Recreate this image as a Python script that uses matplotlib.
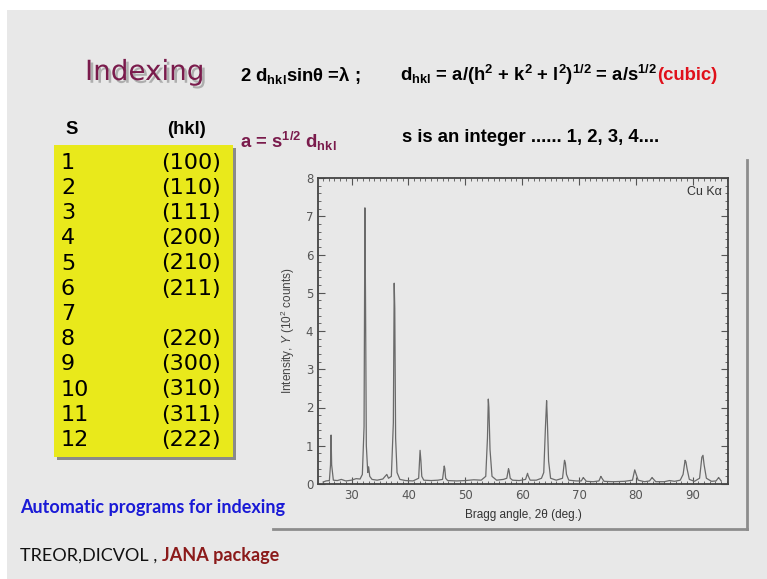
import numpy as np
import matplotlib.pyplot as plt
import matplotlib.patheffects as pe
from matplotlib.patches import Rectangle
from matplotlib.ticker import MultipleLocator

# ~~~~~~~~~~~~~~~~~~~~ data ~~~~~~~~~~~~~~~~~~~~
s_values = ['1', '2', '3', '4', '5', '6', '7', '8', '9', '10', '11', '12']
hkl_values = ['(100)', '(110)', '(111)', '(200)', '(210)', '(211)', '',
              '(220)', '(300)', '(310)', '(311)', '(222)']

# XRD trace (2theta in deg, intensity in 10^2 counts)
two_theta = [25.0, 25.5, 26.1, 26.3, 26.4, 26.5, 26.8, 27.5, 28.2, 29.0, 30.0, 30.8, 31.5,
             31.9, 32.2, 32.35, 32.45, 32.6, 32.85, 33.0, 33.2, 33.6, 34.5, 35.5,
             35.9, 36.2, 36.5, 37.0, 37.35, 37.5, 37.6, 37.75, 38.0, 38.5, 39.5, 40.8,
             41.8, 42.05, 42.2, 42.35, 42.7, 44.0, 45.2,
             46.0, 46.3, 46.4, 46.55, 46.9, 48.5, 50.0, 51.5, 52.8,
             53.6, 53.9, 54.05, 54.15, 54.35, 54.7, 55.5, 56.7,
             57.3, 57.6, 57.7, 57.9, 58.3, 59.5,
             60.6, 60.95, 61.05, 61.4, 62.5, 63.4,
             63.8, 64.1, 64.3, 64.4, 64.65, 65.0, 66.0,
             67.1, 67.45, 67.6, 67.8, 68.2, 69.5,
             70.4, 70.75, 70.85, 71.3, 72.5,
             73.5, 73.85, 73.95, 74.4, 76.0, 78.0,
             79.4, 79.8, 79.95, 80.4, 81.5,
             82.4, 82.85, 82.95, 83.5, 85.0, 85.9, 86.8, 87.8,
             88.3, 88.65, 88.8, 89.0, 89.4, 90.3,
             91.2, 91.6, 91.8, 92.0, 92.4, 93.3,
             94.1, 94.55, 94.65, 95.0]
intensity = [0.05, 0.08, 0.09, 0.5, 1.28, 0.5, 0.1, 0.09, 0.12, 0.08, 0.10, 0.14, 0.13,
             0.25, 1.5, 7.22, 5.0, 1.0, 0.3, 0.45, 0.2, 0.12, 0.1, 0.13,
             0.2, 0.25, 0.15, 0.2, 1.6, 5.25, 4.6, 1.2, 0.3, 0.12, 0.09, 0.08,
             0.15, 0.88, 0.6, 0.2, 0.1, 0.09, 0.1,
             0.12, 0.47, 0.4, 0.15, 0.09, 0.08, 0.09, 0.11, 0.1,
             0.2, 1.2, 2.22, 2.0, 0.9, 0.2, 0.1, 0.12,
             0.15, 0.40, 0.35, 0.15, 0.1, 0.09,
             0.12, 0.28, 0.22, 0.1, 0.1, 0.15,
             0.3, 1.5, 2.18, 1.8, 0.6, 0.15, 0.1,
             0.15, 0.62, 0.55, 0.25, 0.1, 0.08,
             0.08, 0.17, 0.15, 0.07, 0.06,
             0.08, 0.2, 0.17, 0.07, 0.06, 0.07,
             0.1, 0.37, 0.3, 0.1, 0.06,
             0.08, 0.17, 0.15, 0.06, 0.06, 0.09, 0.07, 0.1,
             0.25, 0.62, 0.58, 0.4, 0.12, 0.07,
             0.15, 0.7, 0.75, 0.5, 0.15, 0.07,
             0.08, 0.17, 0.15, 0.08]

W, H = 767, 579


def fx(x):
    return x / W


def fy(y):
    return 1 - y / H


plt.rcParams['mathtext.fontset'] = 'custom'
plt.rcParams['mathtext.rm'] = 'Liberation Sans'
plt.rcParams['mathtext.it'] = 'Liberation Sans:italic'
plt.rcParams['mathtext.bf'] = 'Liberation Sans:bold'

fig = plt.figure(figsize=(W / 100, H / 100), dpi=100, facecolor='white')
renderer = fig.canvas.get_renderer()


def after(prev, s, gap=0, **kw):
    # put a text right after the previous one on the same line
    bb = prev.get_window_extent(renderer)
    x0 = (bb.x1 + gap) / fig.bbox.width
    return fig.text(x0, prev.get_position()[1], s, **kw)


# slide background
fig.patches.append(Rectangle((fx(7), 0), 1 - fx(7), fy(10), transform=fig.transFigure,
                             facecolor='#e8e8e8', edgecolor='none', zorder=-5))

# title
fig.text(fx(85), fy(72), 'Indexing', fontsize=20, color='#7a1b4c', family='DejaVu Sans',
         va='center', ha='left',
         path_effects=[pe.withSimplePatchShadow(offset=(2, -2), shadow_rgbFace='#888888', alpha=0.6)])

eq = dict(fontsize=13.3, fontweight='bold', family='Liberation Sans', va='center')
fig.text(fx(240), fy(75), r'2 d$_{\bf hkl}$sinθ =λ ;', **eq)
t = fig.text(fx(400), fy(75),
             r'd$_{\bf hkl}$ = a/(h$^{\bf 2}$ + k$^{\bf 2}$ + l$^{\bf 2}$)$^{\bf 1/2}$ = a/s$^{\bf 1/2}$', **eq)
after(t, '(cubic)', color='#e0101a', **eq)
fig.text(fx(240), fy(141), r'a = s$^{\bf 1/2}$ d$_{\bf hkl}$', color='#7a1b4c', **eq)
fig.text(fx(402), fy(138), 's is an integer ...... 1, 2, 3, 4....', **eq)

# table
fig.text(fx(65), fy(129), 'S', **eq)
fig.text(fx(167), fy(129), '(hkl)', **eq)
fig.patches.append(Rectangle((fx(57), fy(460)), fx(179), fy(148) - fy(460),
                             transform=fig.transFigure, facecolor='#8a8a8a',
                             edgecolor='none', zorder=1))
fig.patches.append(Rectangle((fx(54), fy(457)), fx(179), fy(145) - fy(457),
                             transform=fig.transFigure, facecolor='#e9e91b',
                             edgecolor='none', zorder=2))
for i, (s, hkl) in enumerate(zip(s_values, hkl_values)):
    y = 162.7 + i * 25.2
    fig.text(fx(61), fy(y), s, fontsize=16, family='DejaVu Sans', va='center', ha='left')
    fig.text(fx(221), fy(y), hkl, fontsize=16, family='DejaVu Sans', va='center', ha='right')

# bottom notes
note = dict(fontsize=13, family='Lato', va='center')
fig.text(fx(20), fy(508), 'Automatic programs for indexing', fontweight='bold',
         color='#1a1ad6', **note)
t = fig.text(fx(20), fy(556), 'TREOR,DICVOL , ', color='#111111', **note)
after(t, 'JANA package', fontweight='bold', color='#8b1a1a', **note)

# picture frame shadow
fig.lines.append(plt.Line2D([fx(273), fx(747)], [fy(529), fy(529)], transform=fig.transFigure,
                            color='#8c8c8c', lw=2))
fig.lines.append(plt.Line2D([fx(747), fx(747)], [fy(160), fy(529)], transform=fig.transFigure,
                            color='#8c8c8c', lw=2))

# diffraction pattern
ax = fig.add_axes([fx(318), fy(484), fx(728) - fx(318), fy(178) - fy(484)])
ax.set_facecolor('none')
ax.plot(two_theta, intensity, color='#6a6a6a', lw=0.9)
ax.set_xlim(24.1, 96.2)
ax.set_ylim(0, 8)
ax.xaxis.set_major_locator(MultipleLocator(10))
ax.xaxis.set_minor_locator(MultipleLocator(1))
ax.yaxis.set_major_locator(MultipleLocator(1))
ax.yaxis.set_minor_locator(MultipleLocator(0.2))
ax.tick_params(which='both', direction='in', top=True, right=True, colors='#555555',
               labelsize=8.5)
ax.tick_params(which='major', length=5)
ax.tick_params(which='minor', length=2)
for sp in ax.spines.values():
    sp.set_color('#444444')
    sp.set_linewidth(1.3)
ax.set_xlabel('Bragg angle, 2θ (deg.)', fontsize=8.5, color='#333333',
              family='Liberation Sans', labelpad=5)
ax.set_ylabel(r'Intensity, $Y$ (10$^2$ counts)', fontsize=8.5, color='#444444',
              family='Liberation Sans', labelpad=6)
ax.text(0.985, 0.955, 'Cu Kα', transform=ax.transAxes, ha='right', va='center',
        fontsize=9, color='#333333', family='Liberation Sans')

fig.savefig('out.png', dpi=100, facecolor=fig.get_facecolor())
